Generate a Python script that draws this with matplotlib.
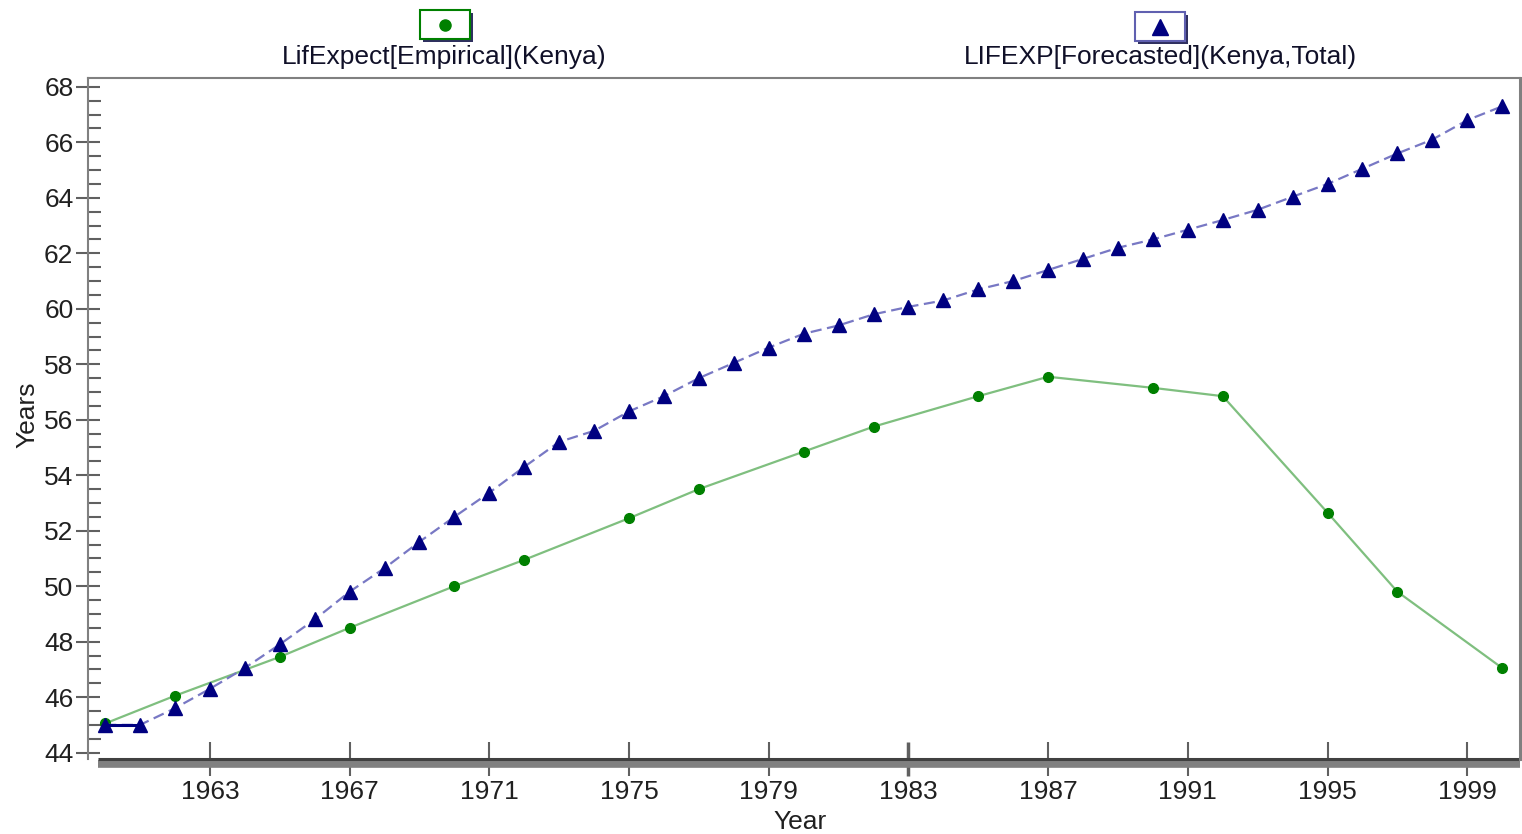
import matplotlib.pyplot as plt
import matplotlib.transforms as mtransforms
from matplotlib.patches import Rectangle
from matplotlib.lines import Line2D
from matplotlib.ticker import MultipleLocator

plt.rcParams['font.family'] = ['Liberation Sans', 'DejaVu Sans']

# Empirical life expectancy (Kenya)
emp_years = [1960, 1962, 1965, 1967, 1970, 1972, 1975, 1977, 1980, 1982,
             1985, 1987, 1990, 1992, 1995, 1997, 2000]
emp_values = [45.05, 46.05, 47.45, 48.5, 50.0, 50.95, 52.45, 53.5, 54.85, 55.75,
              56.85, 57.55, 57.15, 56.85, 52.65, 49.8, 47.05]

# Forecasted life expectancy (Kenya, Total), yearly
fc_years = list(range(1960, 2001))
fc_values = [45.0, 45.0, 45.6, 46.3, 47.05, 47.9, 48.8, 49.8, 50.65, 51.6,
             52.5, 53.37, 54.3, 55.2, 55.6, 56.3, 56.85, 57.5, 58.05, 58.6,
             59.1, 59.4, 59.8, 60.07, 60.3, 60.7, 61.0, 61.4, 61.8, 62.2,
             62.5, 62.85, 63.2, 63.57, 64.04, 64.5, 65.05, 65.6, 66.1, 66.8,
             67.3]

xticks = [1963, 1967, 1971, 1975, 1979, 1983, 1987, 1991, 1995, 1999]
yticks = list(range(44, 70, 2))

W, H = 1522, 834
fig = plt.figure(figsize=(W / 100, H / 100), dpi=100)


def fx(x):
    return x / W


def fy(y):
    return 1 - y / H


left, right, top, bottom = 88, 1520, 78, 759
ax = fig.add_axes([fx(left), fy(bottom), fx(right - left), fy(top) - fy(bottom)])

ax.plot(emp_years, emp_values, color='#7fbf7f', lw=1.6, marker='o',
        markersize=7, markerfacecolor='#008000', markeredgecolor='#008000', zorder=3)
ax.plot(fc_years, fc_values, color='#7878c4', lw=1.6, linestyle=(0, (5, 2.5)),
        marker='^', markersize=10, markerfacecolor='#000080',
        markeredgecolor='#000080', zorder=4)
ax.plot(fc_years[:2], fc_values[:2], color='#000080', lw=2.2, zorder=4)

ax.set_xlim(1959.51, 2000.51)
ax.set_ylim(43.77, 68.32)
ax.set_xticks(xticks)
ax.set_yticks(yticks)
ax.yaxis.set_minor_locator(MultipleLocator(0.5))

ax.tick_params(axis='y', which='major', direction='inout', length=17, width=1.5,
               color='#606060', labelsize=19, labelcolor='#202020', pad=2)
ax.tick_params(axis='y', which='minor', direction='in', length=9, width=1.5,
               color='#606060')
ax.tick_params(axis='x', which='major', direction='inout', length=24, width=1.5,
               color='#606060', labelsize=19, labelcolor='#202020', pad=3)
ax.xaxis.get_major_ticks()[xticks.index(1983)].tick1line.set_color('black')
ax.xaxis.get_major_ticks()[xticks.index(1983)].tick1line.set_markeredgewidth(2.5)

for name in ['left', 'top', 'right']:
    ax.spines[name].set_color('#808080')
ax.spines['left'].set_linewidth(1.5)
ax.spines['top'].set_linewidth(1.5)
ax.spines['right'].set_linewidth(2.2)
ax.spines['bottom'].set_visible(False)

# bottom axis bar: dark upper edge with a grey band under it
x0 = (98 - left) / (right - left)
band = mtransforms.offset_copy(ax.transAxes, fig=fig, x=0, y=-4.5, units='dots')
edge = mtransforms.offset_copy(ax.transAxes, fig=fig, x=0, y=0, units='dots')
ax.plot([x0, 1], [0, 0], transform=band, color='#808080', lw=5.5,
        solid_capstyle='butt', clip_on=False, zorder=2)
ax.plot([x0, 1], [0, 0], transform=edge, color='#404040', lw=2.2,
        solid_capstyle='butt', clip_on=False, zorder=2)

# legend boxes at the top
legend_items = [
    (444, 'LifExpect[Empirical](Kenya)', 'o', 8, '#008000', '#008000', 420, 10),
    (1160, 'LIFEXP[Forecasted](Kenya,Total)', '^', 11, '#000080', '#6060b0', 1135, 12),
]
for cx, label, mk, ms, mcol, ecol, bx, by in legend_items:
    bw, bh = 50, 29
    fig.patches.append(Rectangle((fx(bx + 3), fy(by + bh + 3)), fx(bw), fy(0) - fy(bh),
                                 transform=fig.transFigure, facecolor='#303060',
                                 edgecolor='none', zorder=1))
    fig.patches.append(Rectangle((fx(bx), fy(by + bh)), fx(bw), fy(0) - fy(bh),
                                 transform=fig.transFigure, facecolor='white',
                                 edgecolor=ecol, lw=1.5, zorder=2))
    fig.lines.append(Line2D([fx(bx + bw / 2)], [fy(by + bh / 2)], marker=mk,
                            markersize=ms, color=mcol, transform=fig.transFigure,
                            zorder=3))
    fig.text(fx(cx), fy(57), label, ha='center', va='center', fontsize=19,
             color='#101028')

fig.text(fx(27), fy(415), 'Years', rotation=90, ha='center', va='center',
         fontsize=19, color='#202020')
fig.text(fx(800), fy(822), 'Year', ha='center', va='center', fontsize=19,
         color='#202020')

fig.savefig('out.png', dpi=100)
